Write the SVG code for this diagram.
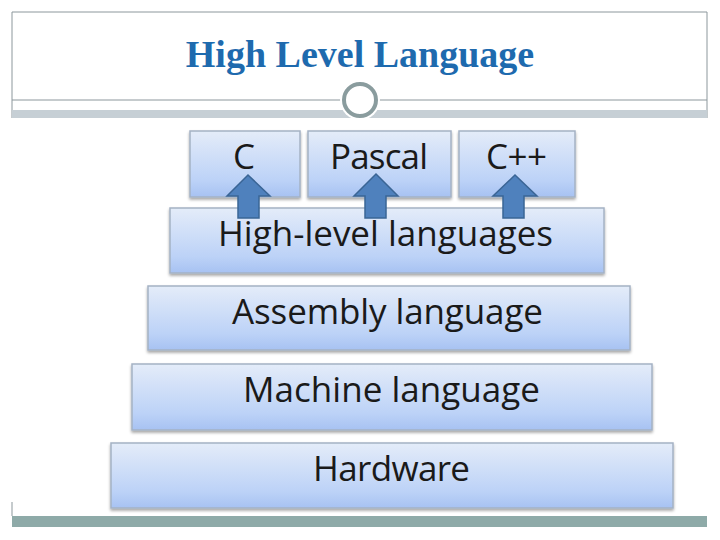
<svg xmlns="http://www.w3.org/2000/svg" width="720" height="540" viewBox="0 0 720 540">
<defs>
<linearGradient id="bg" x1="0" y1="0" x2="0" y2="1">
<stop offset="0" stop-color="#e4ecf9"/>
<stop offset="0.75" stop-color="#bcd2f7"/>
<stop offset="1" stop-color="#a7c2f2"/>
</linearGradient>
<filter id="sh" x="-5%" y="-10%" width="110%" height="130%">
<feGaussianBlur in="SourceAlpha" stdDeviation="1.5"/>
<feOffset dx="0" dy="2"/>
<feComponentTransfer><feFuncA type="linear" slope="0.35"/></feComponentTransfer>
<feMerge><feMergeNode/><feMergeNode in="SourceGraphic"/></feMerge>
</filter>
</defs>
<style>
.box{fill:url(#bg);stroke:#a4b2c4;stroke-width:1.5;filter:url(#sh)}
.lbl{font-family:"Open Sans","DejaVu Sans",sans-serif;font-size:35px;fill:#1a1a1a;text-anchor:middle}
.arr{fill:#4f81bd;stroke:#3a6595;stroke-width:1.5}
</style>
<rect width="720" height="540" fill="#ffffff"/>
<g id="frame">
<path d="M12 118 V12 H707 V118" fill="none" stroke="#8c979c" stroke-width="1"/>
<line x1="12" y1="100" x2="707" y2="100" stroke="#8c979c" stroke-width="1"/>
<rect x="12" y="110" width="695" height="8" fill="#c6cfd5"/>
<circle cx="360" cy="100" r="20" fill="#ffffff"/>
<circle cx="360" cy="100" r="16" fill="#ffffff" stroke="#8a9c9e" stroke-width="4"/>
<text x="360" y="67" font-family="Liberation Serif,serif" font-weight="bold" font-size="38" fill="#1e6aae" text-anchor="middle">High Level Language</text>
<line x1="12" y1="502" x2="12" y2="516" stroke="#8c979c" stroke-width="1"/>
<rect x="12" y="516" width="695" height="11" fill="#8eaaa8"/>
</g>
<g id="hardware"><rect class="box" x="111" y="443" width="562" height="65"/><text class="lbl" x="391.5" y="481" textLength="157">Hardware</text></g>
<g id="machine"><rect class="box" x="132" y="364" width="520" height="66"/><text class="lbl" x="391.5" y="402" textLength="297">Machine language</text></g>
<g id="assembly"><rect class="box" x="148" y="286" width="482" height="64"/><text class="lbl" x="387.5" y="324" textLength="311">Assembly language</text></g>
<g id="highlevel"><rect class="box" x="170" y="208" width="434" height="65"/><text class="lbl" x="385.5" y="246" textLength="335">High-level languages</text></g>
<g id="c"><rect class="box" x="190" y="131" width="110" height="66"/><text class="lbl" x="244" y="169">C</text></g>
<g id="pascal"><rect class="box" x="308" y="131" width="143" height="66"/><text class="lbl" x="379" y="169" textLength="98">Pascal</text></g>
<g id="cpp"><rect class="box" x="459" y="131" width="116" height="66"/><text class="lbl" x="516.5" y="169" textLength="61">C++</text></g>
<g id="connectors">
<path class="arr" d="M248 175 L270 196 L259 196 L259 218 L238 218 L238 196 L227 196 Z"/>
<path class="arr" d="M376 174 L398 196 L386 196 L386 218 L365 218 L365 196 L354 196 Z"/>
<path class="arr" d="M515 175 L537 196 L524 196 L524 218 L503 218 L503 196 L493 196 Z"/>
</g>
</svg>
